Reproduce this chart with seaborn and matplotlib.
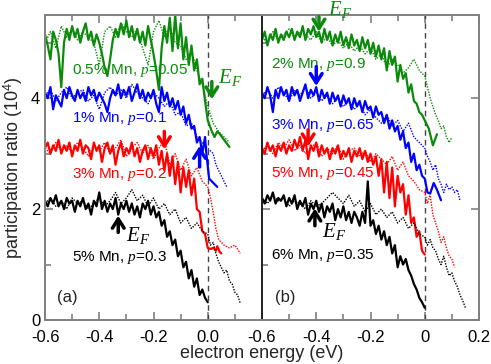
import numpy as np
import pandas as pd
import matplotlib
matplotlib.use("Agg")
import matplotlib.pyplot as plt
import seaborn as sns

# ---------------- data ----------------
# grids: dense solid curves start at -0.60 with step 0.01, dotted at -0.60 with step 0.02
GRID_START = -0.60
STEP_SOLID = 0.01
STEP_DOT = 0.02

# Panel (a)
a_green_solid = [5.15, 4.95, 4.70, 5.20, 5.05, 4.80, 4.20, 5.00, 5.25, 5.05,
                 5.30, 5.10, 5.25, 5.00, 5.20, 5.35, 5.05, 5.20, 4.95, 5.15,
                 5.00, 4.80, 4.55, 4.40, 4.70, 5.05, 5.25, 5.10, 5.35, 5.15,
                 5.40, 5.10, 5.30, 5.05, 5.25, 5.00, 5.20, 4.95, 5.30, 5.05,
                 4.80, 4.50, 4.15, 4.90, 5.30, 5.00, 5.45, 4.85, 5.50, 4.90,
                 5.35, 4.70, 5.10, 4.60, 4.95, 4.50, 4.70, 4.25, 4.35, 3.95]
a_green_solid_tail_e = [0.0, 0.015, 0.025, 0.035, 0.045, 0.06, 0.08]
a_green_solid_tail = [3.6, 3.4, 3.3, 3.4, 3.35, 3.25, 3.12]
a_green_dot = [5.0, 5.2, 4.9, 5.3, 5.1, 5.25, 5.05, 5.2, 5.1, 5.0,
               4.6, 5.2, 5.3, 5.1, 5.35, 5.2, 5.1, 5.25, 4.9, 4.6,
               5.2, 5.4, 5.1, 5.3, 5.0, 4.95, 4.7, 4.85, 4.5, 4.25]
a_green_dot_tail_e = [0.0, 0.02, 0.04, 0.06, 0.08]
a_green_dot_tail = [3.85, 3.55, 3.4, 3.3, 3.2]

a_blue_solid = [4.10, 4.00, 4.20, 3.80, 4.05, 3.95, 3.85, 4.15, 4.00, 4.20,
                4.05, 3.95, 4.15, 4.00, 4.10, 3.95, 4.20, 4.05, 4.15, 3.95,
                4.10, 4.00, 3.90, 3.75, 4.00, 4.15, 4.05, 4.25, 4.00, 4.15,
                4.05, 4.20, 3.95, 4.10, 4.25, 4.00, 4.15, 3.95, 4.10, 4.00,
                4.15, 3.90, 3.75, 4.20, 3.95, 4.10, 3.85, 4.00, 3.80, 3.95,
                3.70, 3.85, 3.55, 3.70, 3.45, 3.50, 3.20, 3.30]
a_blue_solid_tail_e = [-0.02, -0.01, -0.005, 0.005, 0.035]
a_blue_solid_tail = [3.0, 3.3, 3.0, 2.55, 2.4]
a_blue_dot = [4.05, 4.15, 3.95, 4.1, 4.2, 4.0, 4.1, 4.15, 3.95, 4.05,
              3.8, 4.1, 4.2, 4.05, 4.15, 4.0, 4.25, 4.1, 4.0, 3.9,
              4.1, 4.0, 3.85, 3.95, 3.7, 3.75, 3.5, 3.55, 3.3, 3.2]
a_blue_dot_tail_e = [0.0, 0.02, 0.03, 0.045, 0.06, 0.07]
a_blue_dot_tail = [3.1, 3.0, 2.8, 2.65, 2.5, 2.4]

a_red_solid = [3.10, 3.20, 3.00, 3.15, 3.05, 3.25, 3.00, 3.15, 3.05, 3.20,
               2.95, 3.15, 3.05, 3.25, 3.00, 3.15, 3.10, 2.90, 3.20, 3.05,
               3.15, 2.85, 3.10, 3.20, 3.00, 3.15, 2.80, 3.05, 3.20, 2.95,
               3.10, 3.00, 3.20, 2.95, 3.10, 2.85, 3.05, 3.15, 2.90, 3.10,
               2.95, 3.15, 2.80, 3.05, 2.70, 3.00, 2.60, 2.95, 2.45, 2.85,
               2.30, 2.75, 2.40, 2.70, 2.25, 2.55, 2.00, 1.95, 1.60, 1.55]
a_red_solid_tail_e = [0.0, 0.01, 0.02, 0.03, 0.035, 0.045, 0.05]
a_red_solid_tail = [1.3, 1.28, 1.3, 1.25, 1.33, 1.22, 1.2]
a_red_dot = [3.1, 3.0, 3.2, 3.05, 3.15, 3.0, 3.2, 3.1, 2.95, 3.15,
             3.05, 3.2, 3.0, 3.1, 3.25, 2.95, 3.1, 3.2, 3.0, 3.15,
             2.9, 3.1, 3.25, 2.8, 3.0, 2.7, 2.9, 2.6, 2.75, 2.5]
a_red_dot_tail_e = [0.0, 0.01, 0.02, 0.03, 0.04, 0.06, 0.08, 0.1, 0.12]
a_red_dot_tail = [2.4, 2.2, 1.95, 1.65, 1.45, 1.35, 1.3, 1.35, 1.2]

a_black_solid = [2.15, 2.05, 2.20, 2.10, 2.25, 2.05, 2.15, 2.00, 2.20, 2.10,
                 2.15, 1.95, 2.15, 2.05, 2.20, 2.00, 2.10, 1.90, 2.15, 2.05,
                 2.30, 2.00, 2.15, 1.95, 2.10, 2.00, 2.20, 1.90, 2.10, 2.00,
                 2.15, 1.95, 2.10, 1.90, 2.05, 1.85, 2.10, 2.00, 2.15, 1.90,
                 2.05, 1.85, 1.95, 1.70, 1.80, 1.50, 1.60, 1.35, 1.45, 1.15,
                 1.25, 0.95, 1.05, 0.75, 0.90, 0.60, 0.75, 0.45, 0.55, 0.40,
                 0.32]
a_black_dot = [2.1, 2.2, 2.05, 2.15, 2.0, 2.2, 2.1, 2.15, 2.0, 2.1,
               2.2, 2.05, 2.15, 2.3, 2.1, 2.2, 2.35, 2.15, 2.25, 2.05,
               2.2, 2.0, 2.1, 1.9, 2.0, 1.75, 1.85, 1.65, 1.75, 1.6]
a_black_dot_tail_e = [0.0, 0.01, 0.02, 0.03, 0.04, 0.05, 0.06, 0.07, 0.08,
                      0.09, 0.1, 0.11, 0.12]
a_black_dot_tail = [1.55, 1.35, 1.4, 1.2, 1.05, 0.95, 0.85, 0.9, 0.7,
                    0.65, 0.5, 0.45, 0.3]

# Panel (b)
b_green_solid = [5.05, 5.20, 4.95, 5.15, 5.05, 5.25, 5.00, 5.15, 5.05, 5.20,
                 5.10, 5.25, 5.05, 5.20, 5.10, 5.30, 5.05, 5.25, 5.15, 5.30,
                 5.10, 5.20, 5.00, 5.25, 5.05, 5.20, 4.95, 5.15, 5.00, 5.20,
                 4.95, 5.10, 4.90, 5.15, 4.95, 5.05, 4.85, 5.10, 4.90, 5.05,
                 4.80, 5.00, 4.75, 4.95, 4.70, 4.90, 4.50, 4.85, 4.60, 4.75,
                 4.30, 4.60, 4.35, 4.45, 4.10, 4.25, 3.95, 3.90, 3.75, 3.70]
b_green_solid_tail_e = [0.0, 0.015, 0.03, 0.045]
b_green_solid_tail = [3.6, 3.45, 3.15, 3.35]
b_green_dot = [5.1, 5.0, 5.2, 5.05, 5.15, 5.25, 5.1, 5.2, 5.15, 5.05,
               5.2, 5.0, 5.1, 4.95, 5.05, 4.9, 5.0, 4.85, 4.95, 4.8,
               4.9, 4.7, 4.8, 4.55, 4.7, 4.6, 4.45, 4.55, 4.7, 4.5]
b_green_dot_tail_e = [0.0, 0.01, 0.02, 0.03, 0.04, 0.05, 0.06, 0.07, 0.08, 0.09, 0.1]
b_green_dot_tail = [4.4, 4.2, 4.0, 3.85, 3.7, 3.6, 3.45, 3.5, 3.3, 3.2, 3.3]

b_blue_solid = [4.10, 4.00, 4.20, 4.05, 3.75, 4.15, 4.00, 4.20, 4.05, 4.15,
                3.95, 4.20, 4.05, 4.15, 3.95, 4.10, 4.25, 4.00, 4.15, 4.05,
                4.20, 3.95, 4.15, 4.00, 4.10, 3.90, 4.10, 3.95, 4.05, 3.85,
                4.05, 3.90, 4.00, 3.80, 4.00, 3.85, 3.95, 3.75, 3.95, 3.80,
                3.85, 3.65, 3.85, 3.70, 3.75, 3.55, 3.70, 3.45, 3.60, 3.40,
                3.50, 3.25, 3.40, 3.10, 3.20, 2.85, 3.00, 2.70, 2.80, 2.60]
b_blue_solid_tail_e = [0.0, 0.01, 0.02, 0.033, 0.045, 0.06]
b_blue_solid_tail = [2.55, 2.3, 2.28, 2.47, 2.35, 2.16]
b_blue_dot = [4.05, 4.15, 4.0, 4.2, 4.1, 3.95, 4.15, 4.05, 4.2, 4.0,
              4.1, 3.95, 4.05, 3.9, 4.0, 3.85, 3.95, 3.8, 3.9, 3.7,
              3.8, 3.65, 3.55, 3.7, 3.5, 3.6, 3.4, 3.55, 3.3, 3.2]
b_blue_dot_tail_e = [0.0, 0.01, 0.02, 0.03, 0.04, 0.05, 0.06, 0.07, 0.08,
                     0.09, 0.1, 0.11, 0.12, 0.13]
b_blue_dot_tail = [3.1, 2.95, 2.85, 2.7, 2.8, 2.55, 2.45, 2.3, 2.45,
                   2.35, 2.4, 2.3, 2.35, 2.15]

b_red_solid = [3.10, 3.00, 3.20, 3.05, 3.15, 2.95, 3.15, 3.05, 3.20, 3.00,
               3.15, 3.05, 3.25, 3.10, 3.30, 3.05, 3.25, 2.90, 3.15, 3.05,
               3.20, 2.95, 3.15, 3.00, 3.10, 2.90, 3.10, 3.00, 3.15, 2.90,
               3.05, 2.95, 3.10, 2.85, 3.05, 2.95, 3.10, 2.90, 3.05, 2.85,
               3.00, 2.80, 2.95, 2.60, 2.90, 2.30, 2.85, 2.20, 2.75, 2.05,
               2.60, 2.30, 2.45, 1.90, 2.25, 1.75, 1.85, 1.50, 1.60, 1.25,
               1.18]
b_red_dot = [3.05, 3.15, 3.0, 3.2, 3.1, 3.25, 3.05, 3.15, 3.0, 3.1,
             3.2, 2.95, 3.1, 3.0, 3.15, 2.9, 3.05, 3.1, 2.95, 3.05,
             2.85, 3.0, 2.9, 2.8, 2.95, 2.7, 2.85, 2.6, 2.5, 2.35]
b_red_dot_tail_e = [0.0, 0.01, 0.02, 0.03, 0.04, 0.05, 0.06, 0.07, 0.08, 0.09, 0.1, 0.11]
b_red_dot_tail = [2.3, 2.1, 2.25, 1.9, 1.75, 1.6, 1.4, 1.5, 1.3, 1.15, 1.1, 0.95]

b_black_solid = [2.20, 2.10, 2.25, 2.15, 2.30, 2.10, 2.20, 2.15, 2.25, 2.05,
                 2.20, 2.10, 2.25, 2.00, 2.15, 2.05, 2.20, 1.90, 2.10, 2.00,
                 2.15, 1.95, 2.10, 1.85, 2.05, 1.95, 2.10, 1.80, 2.00, 1.85,
                 2.05, 1.80, 1.95, 1.75, 1.95, 1.85, 1.70, 1.95, 1.75, 2.50,
                 1.70, 1.80, 1.55, 1.70, 1.45, 1.60, 1.35, 1.50, 1.20, 1.35,
                 0.95, 1.15, 1.00, 1.10, 0.90, 0.80, 0.65, 0.55, 0.40, 0.32,
                 0.22]
b_black_dot = [2.2, 2.1, 2.25, 2.15, 2.2, 2.05, 2.15, 2.1, 2.0, 2.15,
               2.05, 2.1, 2.2, 2.3, 2.2, 2.1, 2.25, 2.05, 2.15, 1.95,
               2.1, 1.9, 2.0, 1.85, 1.95, 1.75, 1.85, 1.65, 1.75, 1.55]
b_black_dot_tail_e = [0.0, 0.01, 0.02, 0.03, 0.04, 0.05, 0.06, 0.07, 0.08,
                      0.09, 0.1, 0.11, 0.12, 0.13, 0.14, 0.15]
b_black_dot_tail = [1.5, 1.35, 1.45, 1.3, 1.25, 1.1, 1.0, 1.15, 0.95,
                    0.8, 0.85, 0.7, 0.6, 0.45, 0.35, 0.22]

labels_a = ["0.5% Mn, $p$=0.05", "1% Mn, $p$=0.1", "3% Mn, $p$=0.2", "5% Mn, $p$=0.3"]
labels_b = ["2% Mn, $p$=0.9", "3% Mn, $p$=0.65", "5% Mn, $p$=0.45", "6% Mn, $p$=0.35"]
label_y_a = [4.5, 3.64, 2.63, 1.12]
label_y_b = [4.6, 3.51, 2.65, 1.17]

# E_F arrows: (x, tail_y, tip_y)
arrows_a = [(0.015, 4.30, 3.98), (-0.03, 2.76, 3.14), (-0.16, 3.40, 3.08), (-0.33, 1.58, 1.88)]
arrows_b = [(-0.39, 5.47, 5.20), (-0.40, 4.57, 4.22), (-0.43, 3.43, 3.13), (-0.405, 1.70, 2.01)]

GREEN = "#0b8a0b"
colors = [GREEN, "#0000ff", "#ff0000", "#000000"]

xticks = [-0.6, -0.4, -0.2, 0.0, 0.2]
xticklabels_a = ["-0.6", "-0.4", "-0.2", "0.0", ""]
xticklabels_b = ["-0.6", "-0.4", "-0.2", "0", "0.2"]
yticks = [0, 2, 4]
yticklabels = ["0", "2", "4"]

# ---------------- style ----------------
sns.set_style("ticks")
plt.rcParams["font.family"] = ["Liberation Sans", "DejaVu Sans"]
plt.rcParams["mathtext.fontset"] = "custom"
plt.rcParams["mathtext.rm"] = "Liberation Sans"
plt.rcParams["mathtext.it"] = "Liberation Serif:italic"
plt.rcParams["mathtext.bf"] = "Liberation Sans:bold"
plt.rcParams["axes.unicode_minus"] = False

SPINE = "#808080"


def grid(vals, step):
    return GRID_START + step * np.arange(len(vals))


def series(vals, step, tail_e=None, tail_v=None):
    e = list(grid(vals, step))
    v = list(vals)
    if tail_e is not None:
        e += list(tail_e)
        v += list(tail_v)
    return pd.DataFrame({"energy": e, "ratio": v})


fig = plt.figure(figsize=(4.91, 3.64), dpi=100)
L, R, B, T = 45 / 491, 479 / 491, 44 / 364, 349 / 364
MID = 262 / 491
ax_a = fig.add_axes([L, B, MID - L, T - B])
ax_b = fig.add_axes([MID, B, R - MID, T - B])

panel_a = [
    (series(a_green_solid, STEP_SOLID, a_green_solid_tail_e, a_green_solid_tail),
     series(a_green_dot, STEP_DOT, a_green_dot_tail_e, a_green_dot_tail)),
    (series(a_blue_solid, STEP_SOLID, a_blue_solid_tail_e, a_blue_solid_tail),
     series(a_blue_dot, STEP_DOT, a_blue_dot_tail_e, a_blue_dot_tail)),
    (series(a_red_solid, STEP_SOLID, a_red_solid_tail_e, a_red_solid_tail),
     series(a_red_dot, STEP_DOT, a_red_dot_tail_e, a_red_dot_tail)),
    (series(a_black_solid, STEP_SOLID),
     series(a_black_dot, STEP_DOT, a_black_dot_tail_e, a_black_dot_tail)),
]
panel_b = [
    (series(b_green_solid, STEP_SOLID, b_green_solid_tail_e, b_green_solid_tail),
     series(b_green_dot, STEP_DOT, b_green_dot_tail_e, b_green_dot_tail)),
    (series(b_blue_solid, STEP_SOLID, b_blue_solid_tail_e, b_blue_solid_tail),
     series(b_blue_dot, STEP_DOT, b_blue_dot_tail_e, b_blue_dot_tail)),
    (series(b_red_solid, STEP_SOLID),
     series(b_red_dot, STEP_DOT, b_red_dot_tail_e, b_red_dot_tail)),
    (series(b_black_solid, STEP_SOLID),
     series(b_black_dot, STEP_DOT, b_black_dot_tail_e, b_black_dot_tail)),
]

for ax, panel, labels, label_y, arrows, xtl, tag in [
    (ax_a, panel_a, labels_a, label_y_a, arrows_a, xticklabels_a, "(a)"),
    (ax_b, panel_b, labels_b, label_y_b, arrows_b, xticklabels_b, "(b)"),
]:
    for (solid, dot), c in zip(panel, colors):
        sns.lineplot(data=dot, x="energy", y="ratio", ax=ax, color=c, lw=1.0,
                     linestyle=(0, (1, 1)), sort=False, estimator=None)
        sns.lineplot(data=solid, x="energy", y="ratio", ax=ax, color=c, lw=1.6,
                     sort=False, estimator=None)
    ax.axvline(0.0, color="#444444", lw=1.0, dashes=(4, 3), zorder=1)
    ax.set_xlim(-0.6, 0.2)
    ax.set_ylim(0, 5.5)
    ax.set_xticks(xticks)
    ax.set_xticklabels(xtl, fontsize=12)
    ax.set_xticks(np.arange(-0.5, 0.2, 0.2), minor=True)
    ax.set_yticks(yticks)
    ax.set_yticks([1, 3, 5], minor=True)
    ax.set_xlabel("")
    ax.set_ylabel("")
    for s in ax.spines.values():
        s.set_color(SPINE)
        s.set_linewidth(1.4)
    ax.tick_params(which="both", direction="in", colors=SPINE, labelcolor="black",
                   top=True, width=1.2)
    ax.tick_params(which="major", length=6)
    ax.tick_params(which="minor", length=4)
    ax.tick_params(axis="x", which="major", pad=7)
    for lab, ly, c in zip(labels, label_y, colors):
        ax.text(-0.50 if ax is ax_a else -0.565, ly, lab, color=c, fontsize=11,
                ha="left", va="center")
    for (xa, ytail, ytip), c in zip(arrows, colors):
        ax.annotate("", xy=(xa, ytip), xytext=(xa, ytail),
                    arrowprops=dict(arrowstyle="->,head_length=0.55,head_width=0.35",
                                    lw=2.5, color=c, shrinkA=0, shrinkB=0,
                                    mutation_scale=12))
    ax.text(-0.555 if ax is ax_a else -0.552, 0.4, tag, fontsize=12, ha="left", va="center")

# E_F labels
ax_a.text(0.036, 4.38, "$E_F$", color=GREEN, fontsize=15, ha="left", va="center")
ax_a.text(-0.30, 1.52, "$E_F$", color="black", fontsize=15, ha="left", va="center")
ax_b.text(-0.355, 5.6, "$E_F$", color=GREEN, fontsize=15, ha="left", va="center",
          clip_on=False)
ax_b.text(-0.378, 1.60, "$E_F$", color="black", fontsize=15, ha="left", va="center")

ax_a.set_yticklabels(yticklabels, fontsize=12)
ax_a.tick_params(axis="y", right=False)
ax_a.spines["right"].set_visible(False)
ax_b.tick_params(axis="y", left=True, right=True, labelleft=False)
ax_b.spines["left"].set_color("#202020")

ax_a.set_ylabel("participation ratio (10$^{4}$)", fontsize=13, labelpad=4)
fig.text(MID, 0.028, "electron energy (eV)", fontsize=13, ha="center", va="center")

fig.savefig("out.png", dpi=100)
